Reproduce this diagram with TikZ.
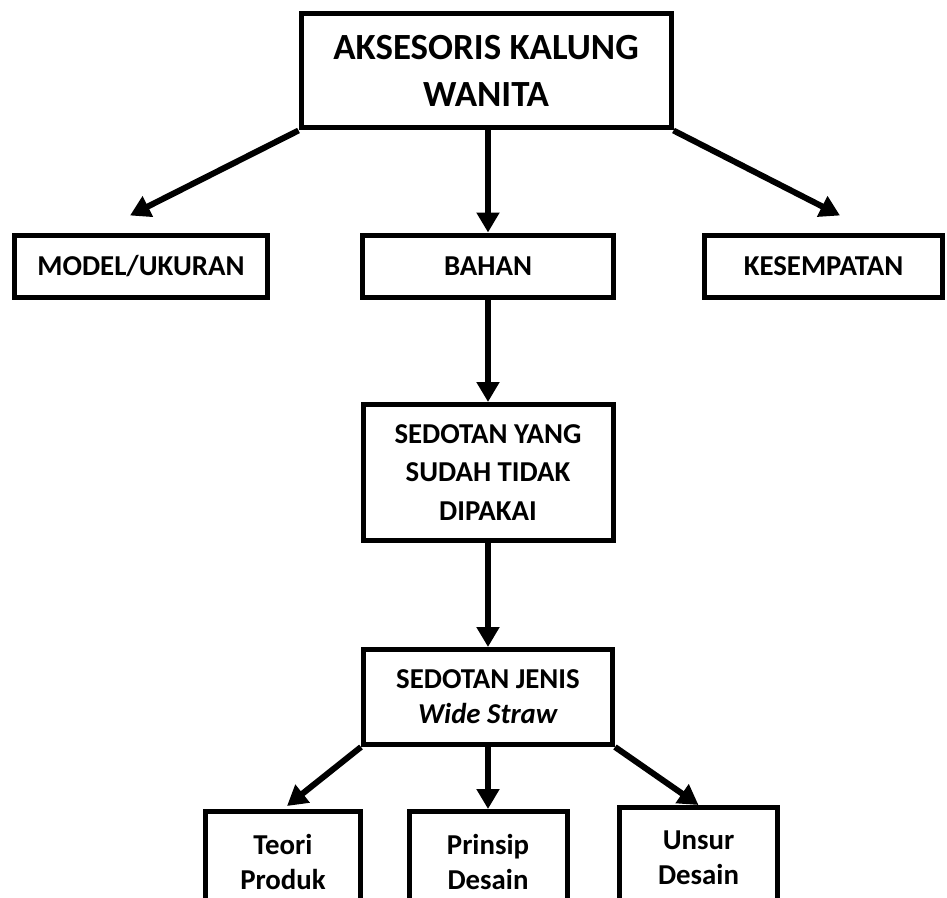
\documentclass[tikz,border=0pt]{standalone}
\usepackage{fontspec}
\setmainfont{Carlito}
\usetikzlibrary{arrows.meta}

\begin{document}
\begin{tikzpicture}[>={Triangle[length=0.4cm, width=0.44cm]},
    line width=0.12cm,
    box/.style={draw, rectangle, line width=0.1cm, align=center, inner sep=2pt,
        font=\fontsize{16.4}{20}\selectfont\bfseries}]

        % page frame
        \useasboundingbox (0,0) rectangle (18.94,-17.96);
        \clip (0,0) rectangle (18.94,-17.96);

        % Define node at the top
        \node[box, minimum width=7.4cm, minimum height=2.28cm,
            font=\fontsize{21}{27}\selectfont\bfseries] (top) at (9.72,-1.42)
            {AKSESORIS KALUNG\\WANITA};

        % Define nodes in the first row
        \node[box, minimum width=5.06cm, minimum height=1.24cm] (model) at (2.82,-5.32) {MODEL/UKURAN};
        \node[box, minimum width=5.02cm, minimum height=1.24cm] (bahan) at (9.76,-5.32) {BAHAN};
        \node[box, minimum width=4.76cm, minimum height=1.24cm] (kesempatan) at (16.47,-5.32) {KESEMPATAN};

        % Define nodes in the middle column
        \node[box, minimum width=5.0cm, minimum height=2.72cm,
            font=\fontsize{16.4}{22}\selectfont\bfseries] (yang) at (9.76,-9.45)
            {SEDOTAN YANG\\SUDAH TIDAK\\DIPAKAI};
        \node[box, minimum width=4.98cm, minimum height=1.9cm] (jenis) at (9.76,-13.94)
            {SEDOTAN JENIS\\\textit{Wide Straw}};

        % Define nodes in the bottom row
        \node[box, minimum width=3.1cm, minimum height=2.02cm] (teori) at (5.66,-17.24) {Teori\\Produk};
        \node[box, minimum width=3.16cm, minimum height=2.02cm] (prinsip) at (9.76,-17.24) {Prinsip\\Desain};
        \node[box, minimum width=3.16cm, minimum height=2.02cm] (unsur) at (13.97,-17.16) {Unsur\\Desain};

        % Draw arrows from the top to the first row
        \draw[->] (top.south west) -- ([xshift=-0.22cm, yshift=0.34cm]model.north);
        \draw[->] (top.south -| bahan.north) -- (bahan.north);
        \draw[->] (top.south east) -- ([xshift=0.33cm, yshift=0.34cm]kesempatan.north);

        % Draw arrows down the middle column
        \draw[->] (bahan.south) -- (yang.north);
        \draw[->] (yang.south) -- (jenis.north);

        % Draw arrows to the bottom row
        \draw[->] (jenis.south west) -- ([xshift=0.08cm, yshift=0.06cm]teori.north);
        \draw[->] (jenis.south) -- (prinsip.north);
        \draw[->] (jenis.south east) -- (unsur.north);

    \end{tikzpicture}
\end{document}
